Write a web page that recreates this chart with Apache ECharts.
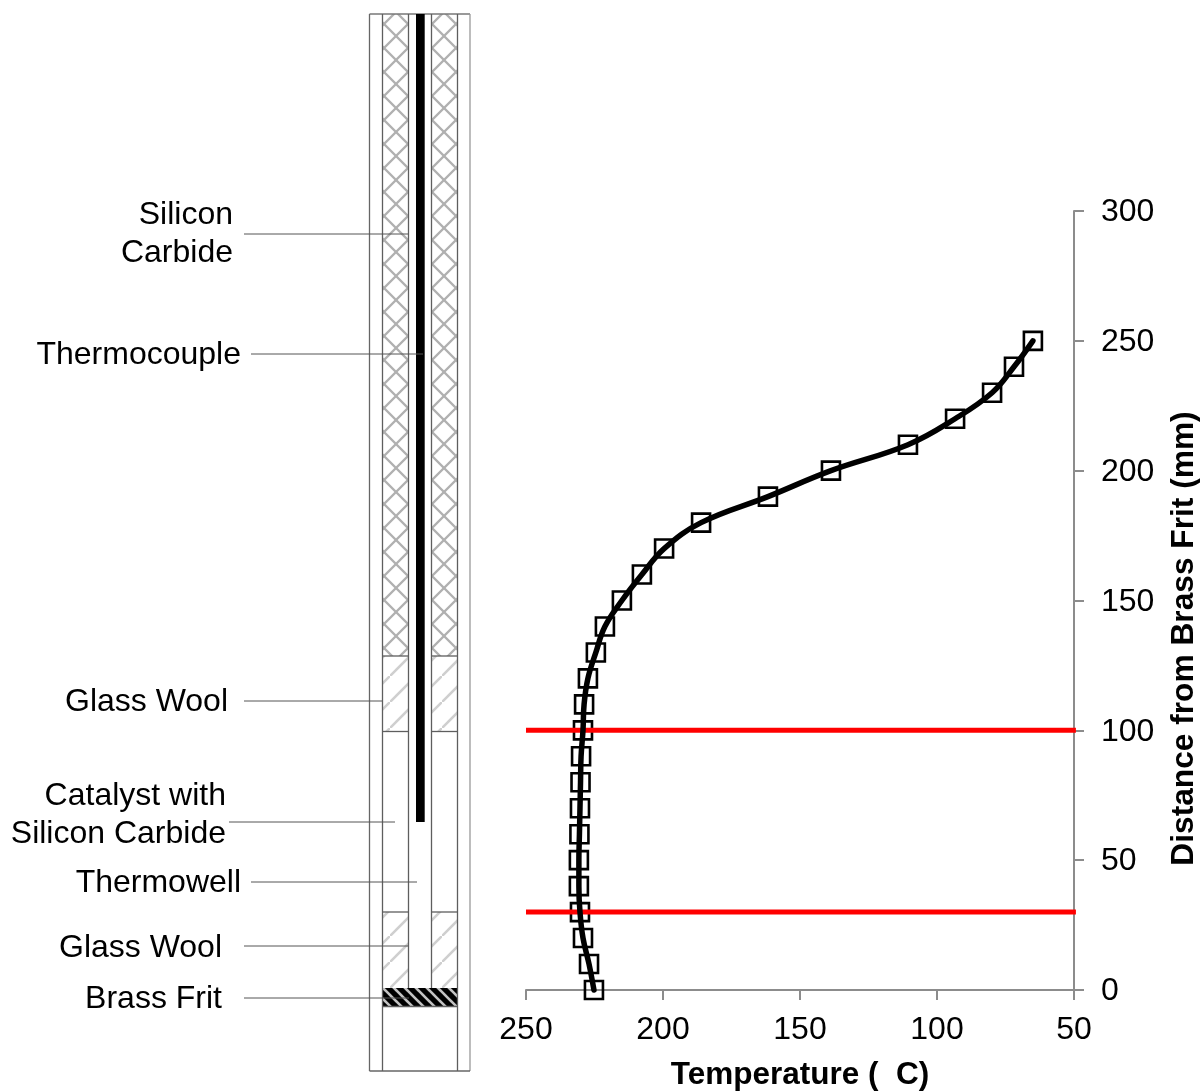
<!DOCTYPE html>
<html><head><meta charset="utf-8">
<style>html,body{margin:0;padding:0;background:#fff}#c{width:1200px;height:1091px}</style>
<script src="https://cdn.jsdelivr.net/npm/echarts@6/dist/echarts.min.js"></script>
</head><body><div id="c"></div>
<script>
var distances=[0,10,20,30,40,50,60,70,80,90,100,110,120,130,140,150,160,170,180,190,200,210,220,230,240,250];
var temperatures=[225.2,227,229.2,230.3,230.7,230.7,230.5,230.3,230.1,229.9,229.2,228.8,227.4,224.5,221.2,215,207.7,199.6,186.1,161.7,138.7,110.6,93.4,79.9,71.9,65];
var zoneBounds=[30,100];
var zoneTempRange=[250,49.3];
var calloutTexts=["Silicon\nCarbide","Thermocouple","Glass Wool","Catalyst with\nSilicon Carbide","Thermowell","Glass Wool","Brass Frit"];
var xTitle="Temperature (  C)", yTitle="Distance from Brass Frit (mm)";

var font='"Liberation Sans",Arial,sans-serif';
function tile(w,h,bg,draw){var c=document.createElement('canvas');c.width=w;c.height=h;var g=c.getContext('2d');if(bg){g.fillStyle=bg;g.fillRect(0,0,w,h);}g.filter='blur(0.6px)';draw(g);return {image:c,repeat:'repeat'};}
function seg(g,a,b,d,e){g.beginPath();g.moveTo(a,b);g.lineTo(d,e);g.stroke();}
var cross=tile(24,24,'#fff',function(g){g.strokeStyle='#b0b0b0';g.lineWidth=2.4;seg(g,-1,-1,25,25);seg(g,25,-1,-1,25);});
var hatch=tile(26,26,'#fff',function(g){g.strokeStyle='#cfcfcf';g.lineWidth=2.6;seg(g,-2,28,28,-2);});
var brass=tile(11,11,'#000',function(g){g.strokeStyle='#c4c4c4';g.lineWidth=2.6;seg(g,-2,-2,13,13);seg(g,-13,-2,2,13);seg(g,9,-2,24,13);});

function rect(x,y,w,h,fill,z){return {type:'rect',silent:true,z:z||1,shape:{x:x,y:y,width:w,height:h},style:{fill:fill,stroke:null}};}
function ln(a,b,c,d,col,lw,z){return {type:'line',silent:true,z:z||3,shape:{x1:a,y1:b,x2:c,y2:d},style:{stroke:col,lineWidth:lw}};}
function txt(right,y,s){return {type:'text',silent:true,z:5,x:right,y:y,style:{text:s,font:'32px '+font,fill:'#000',textAlign:'right',textVerticalAlign:'middle',lineHeight:38}};}

var G='#5e5e5e';
var L=382.5,A=408.5,B=431.5,R=457.5;
var g=[
 rect(L,14,A-L,642,cross),rect(B,14,R-B,642,cross),
 rect(L,656,A-L,75,hatch),rect(B,656,R-B,75,hatch),
 rect(L,912,A-L,76,hatch),rect(B,912,R-B,76,hatch),
 rect(L,988,R-L,18.5,brass,2),
 ln(369.5,14,470,14,'#777',1.3),ln(369.5,14,369.5,1071,'#666',1.3),ln(470,14,470,1071,'#999',1.3),ln(369.5,1071,470,1071,'#666',1.3),
 ln(L,14,L,1071,G,1.3),ln(R,14,R,1071,G,1.3),ln(A,14,A,988,G,1.3),ln(B,14,B,988,G,1.3),
 ln(L,656,A,656,G,1.3),ln(B,656,R,656,G,1.3),ln(L,731.5,A,731.5,G,1.3),ln(B,731.5,R,731.5,G,1.3),
 ln(L,912,A,912,G,1.3),ln(B,912,R,912,G,1.3),ln(L,1006.5,R,1006.5,G,1.3),
 rect(416,14,8.7,808,'#000',4),
 ln(244,234,408,234,'#555',1,5),ln(251,354,423,354,'#555',1,5),ln(244,701,382,701,'#555',1,5),
 ln(229,822,395,822,'#555',1,5),ln(251,882,417,882,'#555',1,5),ln(244,946,408,946,'#555',1,5),ln(244,998,409,998,'#555',1,5),
 txt(233,234,calloutTexts[0]),txt(241,355,calloutTexts[1]),txt(228,702,calloutTexts[2]),
 txt(226,815,calloutTexts[3]),txt(241,883,calloutTexts[4]),txt(222,948,calloutTexts[5]),txt(222,999,calloutTexts[6])
];

var pts=temperatures.map(function(t,i){return [t,distances[i]];});
var axisCol='#8c8c8c';
var option={
 animation:false,backgroundColor:'#fff',
 graphic:{elements:g},
 grid:{left:526,right:126,top:211,bottom:101,containLabel:false,outerBoundsMode:'none'},
 xAxis:{type:'value',min:50,max:250,interval:50,inverse:true,position:'bottom',
  name:xTitle,nameLocation:'middle',nameGap:69,
  nameTextStyle:{fontFamily:font,fontSize:31.5,fontWeight:'bold',color:'#000'},
  axisLine:{onZero:false,lineStyle:{color:axisCol,width:2}},axisTick:{length:10,lineStyle:{color:axisCol,width:2}},
  axisLabel:{margin:24,fontFamily:font,fontSize:32,color:'#000',hideOverlap:false,showMinLabel:true,showMaxLabel:true},splitLine:{show:false}},
 yAxis:{type:'value',min:0,max:300,interval:50,position:'right',
  name:yTitle,nameLocation:'middle',nameGap:94,nameRotate:90,
  nameTextStyle:{fontFamily:font,fontSize:31.7,fontWeight:'bold',color:'#000',padding:[0,76,0,0]},
  axisLine:{onZero:false,lineStyle:{color:axisCol,width:2}},axisTick:{length:10,lineStyle:{color:axisCol,width:2}},
  axisLabel:{margin:27,formatter:'{v|{value}}',rich:{v:{fontFamily:font,fontSize:32,color:'#000',padding:[3,0,0,0]}},showMinLabel:true,showMaxLabel:true},splitLine:{show:false}},
 series:[
  {type:'scatter',data:pts,symbol:'rect',symbolSize:18,silent:true,z:2,clip:false,
   itemStyle:{color:'rgba(255,255,255,0)',borderColor:'#000',borderWidth:2.6,opacity:1}},
  {type:'line',data:[[zoneTempRange[0],zoneBounds[0]],[zoneTempRange[1],zoneBounds[0]]],symbol:'none',silent:true,z:3,clip:false,lineStyle:{color:'#ff0000',width:5,cap:'butt'}},
  {type:'line',data:[[zoneTempRange[0],zoneBounds[1]],[zoneTempRange[1],zoneBounds[1]]],symbol:'none',silent:true,z:3,clip:false,lineStyle:{color:'#ff0000',width:5,cap:'butt'}},
  {type:'line',data:pts,symbol:'none',smooth:0.4,silent:true,z:4,clip:false,lineStyle:{color:'#000',width:5.5,cap:'round'}}
 ]
};
echarts.init(document.getElementById('c'),null,{renderer:'canvas'}).setOption(option);
</script></body></html>
